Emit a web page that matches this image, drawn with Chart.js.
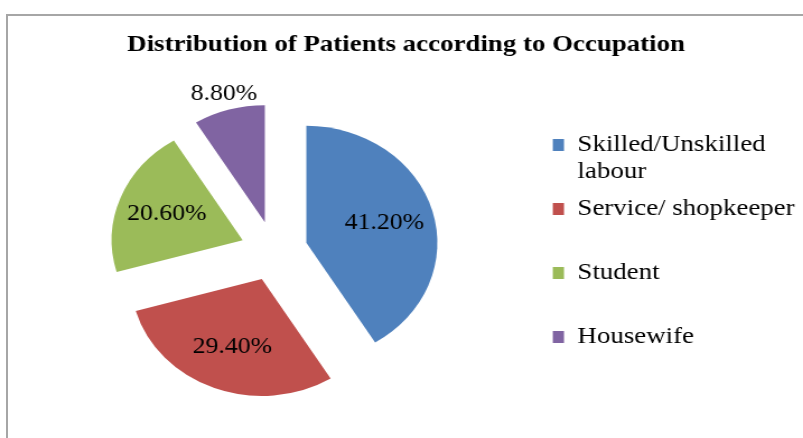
<!DOCTYPE html>
<html>
<head>
<meta charset="utf-8">
<script src="https://cdn.jsdelivr.net/npm/chart.js@4.4.1/dist/chart.umd.min.js"></script>
<style>
  html, body { margin: 0; padding: 0; background: #fff; overflow: hidden; width: 803px; height: 438px; }
  #frame { position: absolute; left: 6px; top: 14px; width: 900px; height: 500px;
           border-top: 2px solid #a6a6a6; border-left: 2px solid #a6a6a6; }
  #wrap { position: absolute; left: 0; top: 0; transform: scaleX(1.12); transform-origin: 0 0; }
</style>
</head>
<body>
<div id="frame"></div>
<div id="wrap"><canvas id="c" width="722" height="438"></canvas></div>
<script>
// ---- data ----
const chartTitle = 'Distribution of Patients according to Occupation';
const categories = ['Skilled/Unskilled labour', 'Service/ shopkeeper', 'Student', 'Housewife'];
const percentages = [41.2, 29.4, 20.6, 8.8];
const sliceColors = ['#4F81BD', '#C0504D', '#9BBB59', '#8064A2'];

// ---- styling constants ----
const EXPLODE = 30;
const SERIF = "'Liberation Serif', 'Times New Roman', serif";
const LEGEND_SIZE = 24;
const LABEL_SIZE = 23;

function wrapText(ctx, text, maxW) {
  const words = text.split(' ');
  const lines = [];
  let cur = '';
  words.forEach(w => {
    const t = cur ? cur + ' ' + w : w;
    if (cur && ctx.measureText(t).width > maxW) { lines.push(cur); cur = w; }
    else cur = t;
  });
  if (cur) lines.push(cur);
  return lines;
}

const explodePlugin = {
  id: 'explodeAndLabels',
  beforeDatasetsDraw(chart) {
    const ctx = chart.ctx;
    const meta = chart.getDatasetMeta(0);
    const vals = chart.data.datasets[0].data;
    const total = vals.reduce((a, b) => a + b, 0);
    meta.data.forEach(arc => {
      const mid = (arc.startAngle + arc.endAngle) / 2;
      ctx.save();
      ctx.translate(Math.cos(mid) * EXPLODE, Math.sin(mid) * EXPLODE);
      arc.draw(ctx);
      ctx.restore();
    });
    ctx.save();
    ctx.font = LABEL_SIZE + 'px ' + SERIF;
    ctx.fillStyle = '#000';
    ctx.textAlign = 'center';
    ctx.textBaseline = 'middle';
    meta.data.forEach((arc, i) => {
      const mid = (arc.startAngle + arc.endAngle) / 2;
      const share = vals[i] / total * 100;
      const frac = share < 10 ? 1.14 : 0.62;
      const d = EXPLODE + frac * arc.outerRadius;
      ctx.fillText(vals[i].toFixed(2) + '%', arc.x + Math.cos(mid) * d, arc.y + Math.sin(mid) * d);
    });
    ctx.restore();
    return false;
  }
};

new Chart(document.getElementById('c'), {
  type: 'pie',
  data: {
    labels: categories,
    datasets: [{
      data: percentages,
      backgroundColor: sliceColors,
      borderWidth: 0,
      radius: 117
    }]
  },
  options: {
    responsive: false,
    animation: false,
    events: [],
    layout: { padding: { left: 5.7, right: 2.5, top: 0, bottom: 49 } },
    plugins: {
      tooltip: { enabled: false },
      title: {
        display: true,
        text: chartTitle,
        color: '#000',
        font: { family: SERIF, size: 24, weight: 'bold' },
        padding: { top: 30.6, bottom: 53.6 }
      },
      legend: {
        display: true,
        position: 'right',
        align: 'end',
        labels: {
          color: '#000',
          font: { family: SERIF, size: LEGEND_SIZE, lineHeight: '27px' },
          boxWidth: 10,
          boxHeight: 12,
          padding: 10,
          generateLabels(chart) {
            const ds = chart.data.datasets[0];
            const ctx = chart.ctx;
            ctx.save();
            ctx.font = LEGEND_SIZE + 'px ' + SERIF;
            const lines = chart.data.labels.map(l => wrapText(ctx, l, 210));
            ctx.restore();
            const n = Math.max(...lines.map(l => l.length));
            return lines.map((ls, i) => {
              const t = ls.slice();
              while (t.length < n) t.push('');
              return {
                text: t,
                fillStyle: ds.backgroundColor[i],
                strokeStyle: ds.backgroundColor[i],
                lineWidth: 0,
                fontColor: '#000',
                hidden: false,
                index: i
              };
            });
          }
        }
      }
    }
  },
  plugins: [explodePlugin]
});
</script>
</body>
</html>
